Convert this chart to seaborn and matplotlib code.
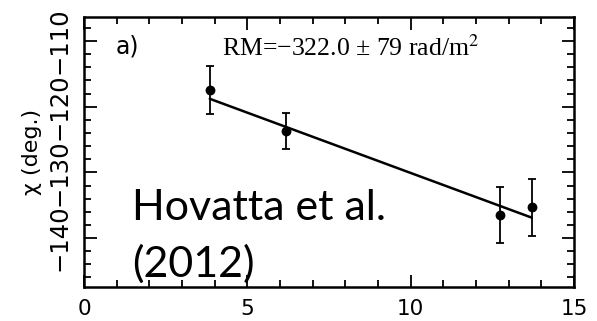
import matplotlib
matplotlib.use("Agg")
import matplotlib.pyplot as plt
from matplotlib.ticker import MultipleLocator
import pandas as pd
import seaborn as sns

# Polarization angle vs wavelength squared
lambda_sq = [3.85, 6.17, 12.75, 13.71]
chi_deg = [-117.5, -123.7, -136.5, -135.3]
chi_err = [3.65, 2.7, 4.25, 4.35]

# Best-fit rotation measure line
fit_x = [3.85, 13.71]
fit_chi = [-118.8, -136.9]

x_ticks = [0, 5, 10, 15]
y_ticks = [-140, -130, -120, -110]
y_tick_labels = ["\u2212140", "\u2212130", "\u2212120", "\u2212110"]

rm_label = "RM=\u2212322.0 \u00b1 79 rad/m$^2$"
panel_label = "a)"
credit_lines = ["Hovatta et al.", "(2012)"]

sns.set_theme(style="ticks")
plt.rcParams["font.family"] = ["DejaVu Sans"]
plt.rcParams["mathtext.fontset"] = "stix"

fig = plt.figure(figsize=(5.97, 3.21), dpi=100)
ax = fig.add_axes([84 / 597, 1 - 287 / 321, (574 - 84) / 597, (287 - 17) / 321])

pts = pd.DataFrame({"x": lambda_sq, "chi": chi_deg, "err": chi_err})
fit = pd.DataFrame({"x": fit_x, "chi": fit_chi})

ax.errorbar(pts["x"], pts["chi"], yerr=pts["err"], fmt="none",
            ecolor="black", elinewidth=1.3, capsize=3, capthick=1.3, zorder=3)
sns.scatterplot(data=pts, x="x", y="chi", ax=ax, color="black", s=50,
                edgecolor="black", linewidth=0, zorder=4, legend=False)
sns.lineplot(data=fit, x="x", y="chi", ax=ax, color="black", linewidth=1.8,
             zorder=3, legend=False)

ax.set_xlim(0, 15)
ax.set_ylim(-147.45, -106.35)
ax.set_xticks(x_ticks)
ax.set_xticklabels([str(t) for t in x_ticks], fontsize=15.5, va="baseline")
ax.set_yticks(y_ticks)
ax.set_yticklabels(y_tick_labels, fontsize=17.5, rotation=90, va="center")
ax.xaxis.set_minor_locator(MultipleLocator(1))
ax.yaxis.set_minor_locator(MultipleLocator(2))
ax.tick_params(which="both", direction="in", top=True, right=True,
               color="black", width=1.3, labelcolor="black")
ax.tick_params(which="major", length=9)
ax.tick_params(which="minor", length=5)
ax.tick_params(axis="x", which="major", pad=20.5)
ax.tick_params(axis="y", which="major", pad=9)
for s in ax.spines.values():
    s.set_linewidth(1.8)
    s.set_color("black")
    s.set_visible(True)

ax.set_xlabel("")
ax.set_ylabel("\u03c7 (deg.)", fontsize=16, labelpad=4, color="black")

ax.text(0.98, -110.8, panel_label, fontsize=17, va="center", ha="left",
        color="black")
ax.text(8.17, -112.2, rm_label, fontsize=18.5, ha="center", va="baseline",
        color="black", family="Liberation Serif")

for line, base_px in zip(credit_lines, [220, 277]):
    fig.text(132 / 597, 1 - base_px / 321, line, fontsize=31, family="Lato",
             ha="left", va="baseline", color="black", zorder=10)

fig.savefig("out.png", dpi=100, facecolor="white")
